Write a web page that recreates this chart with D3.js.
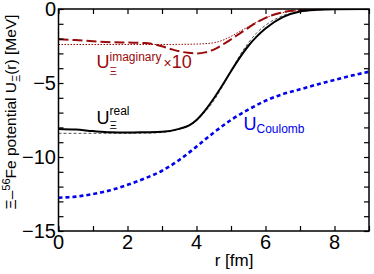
<!DOCTYPE html>
<html><head><meta charset="utf-8">
<script src="https://cdn.jsdelivr.net/npm/d3@7"></script>
<style>html,body{margin:0;padding:0;background:#fff}svg{display:block}text{font-family:"Liberation Sans",Arial,sans-serif}</style>
</head><body>
<svg id="c" width="374" height="274"></svg>
<script>
// r [fm]
const rReal = [0,0.5,1,1.5,2,2.5,3,3.5,3.8,4,4.25,4.5,4.75,5,5.25,5.5,5.75,6,6.5,7,7.5,8,9];
const uReal = [-8.1,-8.15,-8.25,-8.33,-8.35,-8.33,-8.3,-8.1,-7.85,-7.5,-6.85,-6.05,-5.15,-4.2,-3.3,-2.5,-1.85,-1.32,-0.55,-0.17,-0.05,-0.01,0];
const rRealFit = [0,1,2,2.5,3,3.5,3.8,4,4.25,4.5,4.75,5,5.25,5.5,5.75,6,6.5,7,7.5,8,9];
const uRealFit = [-8.4,-8.4,-8.4,-8.39,-8.34,-8.12,-7.85,-7.55,-6.95,-6.2,-5.25,-4.2,-3.15,-2.3,-1.6,-1.1,-0.45,-0.16,-0.05,-0.02,0];
const rImag = [0,0.5,1,1.5,2,2.5,3,3.25,3.5,3.75,4,4.25,4.5,4.75,5,5.25,5.5,5.75,6,6.5,7,7.5,8,9];
const uImag = [-2.05,-2.1,-2.18,-2.24,-2.27,-2.3,-2.52,-2.7,-2.86,-2.96,-3.0,-2.93,-2.75,-2.42,-2.05,-1.66,-1.27,-0.9,-0.6,-0.22,-0.07,-0.02,0,0];
const rImagFit = [0,1,2,3,3.5,4,4.25,4.5,4.75,5,5.25,5.5,5.75,6,6.5,7,7.5,8,9];
const uImagFit = [-2.4,-2.4,-2.4,-2.4,-2.39,-2.37,-2.34,-2.28,-2.12,-1.85,-1.52,-1.2,-0.88,-0.6,-0.25,-0.09,-0.03,-0.01,0];
const rCoul = [0,0.5,1,1.5,2,2.5,3,3.5,4,4.5,5,5.5,6,6.5,7,7.5,8,8.5,9];
const uCoul = [-12.75,-12.68,-12.5,-12.25,-11.88,-11.45,-10.93,-10.2,-9.3,-8.35,-7.5,-6.8,-6.2,-5.75,-5.43,-5.1,-4.8,-4.5,-4.24];
const xTicks = [0,2,4,6,8];
const xMinor = [0,1,2,3,4,5,6,7,8,9];
const yTicks = [0,-5,-10,-15];
const yMinor = d3.range(0,-16,-1);

const svg = d3.select("#c");
const x = d3.scaleLinear().domain([0,9]).range([58.5,369]);
const y = d3.scaleLinear().domain([-15,0]).range([231,9]);
const darkred = "#9a0a0a", blue = "#0000ee";

const clip = svg.append("clipPath").attr("id","cp").append("rect")
  .attr("x",x(0)).attr("y",y(0)).attr("width",x(9)-x(0)).attr("height",y(-15)-y(0));
const g = svg.append("g").attr("clip-path","url(#cp)");
const line = (rs,us) => d3.line().x((d,i)=>x(rs[i])).y((d,i)=>y(us[i])).curve(d3.curveMonotoneX)(us);

g.append("path").attr("d",line(rCoul,uCoul)).attr("fill","none").attr("stroke",blue)
  .attr("stroke-width",2.6).attr("stroke-dasharray","4,3");
g.append("path").attr("d",line(rImagFit,uImagFit)).attr("fill","none").attr("stroke",darkred)
  .attr("stroke-width",1).attr("stroke-dasharray","1.5,1.5");
g.append("path").attr("d",line(rImag,uImag)).attr("fill","none").attr("stroke",darkred)
  .attr("stroke-width",2).attr("stroke-dasharray","10,4");
g.append("path").attr("d",line(rRealFit,uRealFit)).attr("fill","none").attr("stroke","#555")
  .attr("stroke-width",1).attr("stroke-dasharray","3,2");
g.append("path").attr("d",line(rReal,uReal)).attr("fill","none").attr("stroke","#000")
  .attr("stroke-width",2);

// frame
svg.append("rect").attr("x",x(0)).attr("y",y(0)).attr("width",x(9)-x(0)).attr("height",y(-15)-y(0))
  .attr("fill","none").attr("stroke","#000").attr("stroke-width",1.5);
const tl = 5;
// axes with inward ticks
const axB = d3.axisBottom(x).tickValues(xMinor).tickSize(-tl).tickFormat("");
const axT = d3.axisTop(x).tickValues(xMinor).tickSize(-tl).tickFormat("");
const axL = d3.axisLeft(y).tickValues(yMinor).tickSize(-tl).tickFormat("");
const axR = d3.axisRight(y).tickValues(yMinor).tickSize(-tl).tickFormat("");
[[axB,`translate(0,${y(-15)})`],[axT,`translate(0,${y(0)})`],[axL,`translate(${x(0)},0)`],[axR,`translate(${x(9)},0)`]]
 .forEach(([a,t])=>{const gg=svg.append("g").attr("transform",t).call(a);
   gg.select(".domain").remove(); gg.selectAll("line").attr("stroke","#000").attr("stroke-width",1.2);});

// tick labels
svg.append("g").selectAll("text").data(xTicks).join("text")
  .attr("x",d=>x(d)).attr("y",249).attr("text-anchor","middle").attr("font-size",20).text(d=>d);
svg.append("g").selectAll("text").data(yTicks).join("text")
  .attr("x",56).attr("y",d=>y(d)).attr("dy","0.36em").attr("text-anchor","end").attr("font-size",20)
  .text(d=>d===0?"0":"\u2212"+Math.abs(d));

// axis titles
svg.append("text").attr("x",234).attr("y",266).attr("text-anchor","middle").attr("font-size",17).text("r [fm]");
const yl = svg.append("text").attr("transform","translate(16,112) rotate(-90)").attr("text-anchor","middle").attr("font-size",15.5);
yl.append("tspan").text("\u039E\u2013");
yl.append("tspan").attr("font-size",11).attr("dy",-6).text("56");
yl.append("tspan").attr("dy",6).text("Fe potential U");
yl.append("tspan").attr("font-size",11).attr("dy",4).text("\u039E");
yl.append("tspan").attr("dy",-4).text("(r) [MeV]");

// curve labels
function lab(xx,yy,col,sup,sub,supDy,subDy,extra){
  const t = svg.append("text").attr("x",xx).attr("y",yy).attr("fill",col).attr("font-size",18);
  t.append("tspan").text("U");
  if(sup){
    t.append("tspan").attr("font-size",12).attr("dy",supDy).text(sup);
    const w = t.node().getComputedTextLength();
    svg.append("text").attr("x",xx+13).attr("y",yy+subDy).attr("fill",col).attr("font-size",11.5).text("\u039E");
    if(extra){ svg.append("text").attr("x",xx+w+2).attr("y",yy).attr("fill",col).attr("font-size",18)
      .append("tspan").text(extra[0]).attr("font-size",14).append("tspan").attr("font-size",18).text(extra[1]); }
  } else {
    t.append("tspan").attr("font-size",12).attr("dy",subDy).text(sub);
  }
}
lab(96.5,68,darkred,"imaginary",null,-7,7,["\u00D7","10"]);
lab(96.5,123.5,"#000","real",null,-8.5,5);
lab(243.5,130,blue,null,"Coulomb",0,3);
</script>
</body></html>
